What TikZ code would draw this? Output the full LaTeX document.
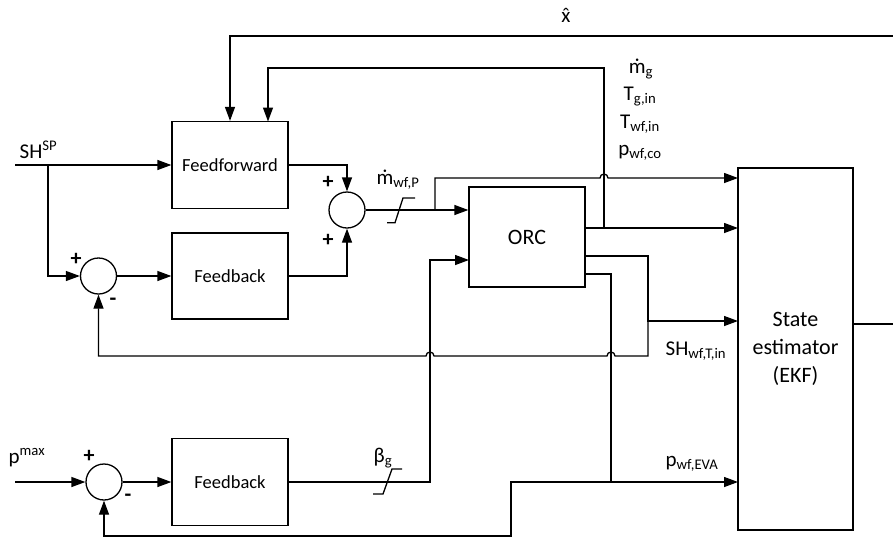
\documentclass[tikz,border=0pt]{standalone}
\usepackage{fontspec}
\setmainfont{Carlito}
\usetikzlibrary{arrows.meta}
\newcommand\mydotm{\ooalign{m\cr\hidewidth\char"02D9\hidewidth\cr}}
\newcommand\myhatx{\ooalign{x\cr\hidewidth\char"02C6\hidewidth\cr}}
\begin{document}
\begin{tikzpicture}[x=1pt,y=-1pt,
  line width=1.3pt,
  arr/.style={-{Triangle[length=14pt,width=10pt]}},
  blk/.style={draw,minimum width=116pt,inner sep=0pt,font=\fontsize{18.5}{22}\selectfont},
  sumc/.style={draw,circle,minimum size=36pt,inner sep=0pt},
  lbl/.style={font=\fontsize{21}{25}\selectfont,inner sep=0pt},
  sgn/.style={font=\fontsize{22}{26}\selectfont\bfseries,inner sep=0pt}]
\useasboundingbox (0,0) rectangle (893,541);

% blocks
\node[blk,minimum height=87pt] (ff) at (230,165) {Feedforward};
\node[blk,minimum height=86pt] (fb1) at (230,276) {Feedback};
\node[blk,minimum height=87pt] (fb2) at (230,482) {Feedback};
\node[blk,minimum height=100pt,font=\fontsize{22}{26}\selectfont] (orc) at (527,237) {ORC};
\node[blk,minimum width=115pt,minimum height=362pt,align=center,font=\fontsize{22}{28}\selectfont] (ekf) at (795.5,349) {State\\estimator\\(EKF)};

\node[sumc] (s1) at (98.5,276) {};
\node[sumc] (s2) at (347,210) {};
\node[sumc] (s3) at (104,482) {};

% coordinates
\coordinate (shin) at (15,165);
\coordinate (jsh) at (48,165);
\coordinate (pin) at (15,482);
\coordinate (j1) at (435,210);
\coordinate (orcin1) at (orc.west |- j1);
\coordinate (orcin2) at (469,260);
\coordinate (j2) at (430,482);
\coordinate (o1) at (585,228);
\coordinate (o2) at (585,256);
\coordinate (o3) at (585,274);
\coordinate (ek1) at (738,178);
\coordinate (ek2) at (738,228);
\coordinate (ek3) at (738,321);
\coordinate (ek4) at (738,482);
\coordinate (jo1) at (604,228);
\coordinate (t2) at (604,68);
\coordinate (ffin2) at (268,121.5);
\coordinate (xr) at (893,36);
\coordinate (eo) at (853,324);
\coordinate (er) at (893,324);
\coordinate (jsh2) at (648,321);
\coordinate (jev) at (611,482);

% connectors
\draw[arr] (shin) -- (ff.west |- shin);
\draw[arr] (jsh) |- (s1.west);
\draw[arr] (s1) -- (fb1);
\draw[arr] (ff.east) -| (s2.north);
\draw[arr] (fb1.east) -| (s2.south);
\draw[arr] (s2.east) -- (orcin1);
\draw[arr] (j1) |- (600,178) arc[start angle=180,end angle=0,radius=4pt] -- (ek1);
\draw[arr] (o1) -- (ek2);
\draw[arr] (jo1) -- (t2) -| (ffin2);
\draw[arr] (xr) -| (ff.north);
\draw[arr] (o2) -| (jsh2) -- (ek3);
\draw[arr] (jsh2) -- (648,356) -- (615,356) arc[start angle=0,end angle=180,radius=4pt] -- (434,356) arc[start angle=0,end angle=180,radius=4pt] -- (98.5,356) -- (s1.south);
\draw[arr] (o3) -| (jev) -- (ek4);
\draw[arr] (jev) -- (511,482) -- (511,536) -| (s3.south);
\draw[arr] (pin) -- (s3.west);
\draw[arr] (s3) -- (fb2);
\draw[arr] (fb2.east) -- (j2) |- (orcin2);
\draw (eo) -- (er);

% saturation marks
\draw (387,222.7) -- (395,222.7) -- (403,198) -- (415,198);
\draw (373,494) -- (383,494) -- (392,469) -- (402,469);

% labels
\node[lbl,anchor=base west] (lsh) at (19,158) {SH\textsuperscript{SP}};
\node[lbl,anchor=base west] (lp) at (8,463) {p\textsuperscript{max}};
\node[lbl] (lx) at (566,17) {\myhatx};
\node[lbl,anchor=base] (lmg) at (641,73) {\mydotm\textsubscript{g}};
\node[lbl,anchor=base] (ltg) at (640,100) {T\textsubscript{g,in}};
\node[lbl,anchor=base] (ltw) at (640,128) {T\textsubscript{wf,in}};
\node[lbl,anchor=base] (lpc) at (640,155) {p\textsubscript{wf,co}};
\node[lbl,anchor=base] (lmw) at (398,184) {\mydotm\textsubscript{wf,P}};
\node[lbl,anchor=base west] (lshw) at (665,355) {SH\textsubscript{wf,T,in}};
\node[lbl,anchor=base west] (lpe) at (665,466) {p\textsubscript{wf,EVA}};
\node[lbl,anchor=base west] (lb) at (373,462) {β\textsubscript{g}};

% signs
\node[sgn] (p1) at (328,182) {+};
\node[sgn] (p2) at (328,240) {+};
\node[sgn] (p3) at (76,259) {+};
\node[sgn] (m1) at (113,302) {-};
\node[sgn] (p4) at (89,456) {+};
\node[sgn] (m2) at (128,498) {-};
\end{tikzpicture}
\end{document}
